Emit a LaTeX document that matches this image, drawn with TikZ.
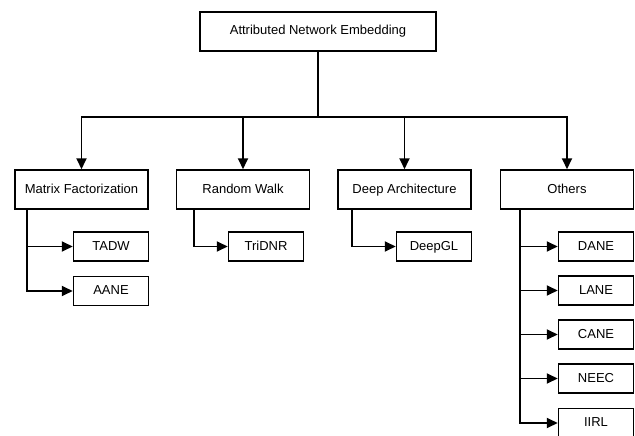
\documentclass[tikz,border=0pt]{standalone}
\usepackage{fontspec}
\setmainfont{Liberation Sans}
\usetikzlibrary{positioning,arrows.meta}

\begin{document}
\begin{tikzpicture}[x=1pt,y=-1pt,
	every node/.style={draw,rectangle,line width=1.5pt,inner sep=0pt,text height=9.5pt,text depth=2.5pt,font=\fontsize{13}{15}\selectfont},
	topbox/.style={minimum width=236pt,minimum height=39pt},
	catbox/.style={minimum width=133pt,minimum height=39pt},
	leafbox/.style={minimum width=75pt,minimum height=29pt},
	arr/.style={line width=1.9pt,-{Triangle[length=11pt,width=10pt]}}]

\useasboundingbox (0,0) rectangle (635,436);

%\draw[color=black!30](0,0)grid[step=50](635,436);

\node[topbox] (ane) at (318,31.5) {Attributed Network Embedding};

\node[catbox] (mf) at (81.5,189.5) {Matrix Factorization};
\node[catbox] (rw) at (243,189.5) {Random Walk};
\node[catbox] (da) at (404.5,189.5) {Deep Architecture};
\node[catbox] (ot) at (567,189.5) {Others};

\node[leafbox] (tadw) at (111,246.5) {TADW};
\node[leafbox] (aane) at (111,291) {AANE};
\node[leafbox] (tridnr) at (266,246.5) {TriDNR};
\node[leafbox] (deepgl) at (434,246.5) {DeepGL};

\foreach[count=\c] \name/\y in {DANE/246.5,LANE/290.5,CANE/334.5,NEEC/378.5,IIRL/423}
	\node[leafbox] (o\c) at (596,\y) {\name};

\foreach \v in {mf,rw,da,ot}
	\draw[arr] (ane.south) -- ++(0,65) -| (\v.north);

\draw[arr] ([xshift=13pt]mf.south west) |- (tadw.west);
\draw[arr] ([xshift=13pt]mf.south west) |- (aane.west);
\draw[arr] ([xshift=18pt]rw.south west) |- (tridnr.west);
\draw[arr] ([xshift=15pt]da.south west) |- (deepgl.west);

\foreach \c in {1,...,5}
	\draw[arr] ([xshift=20pt]ot.south west) |- (o\c.west);

\end{tikzpicture}
\end{document}
